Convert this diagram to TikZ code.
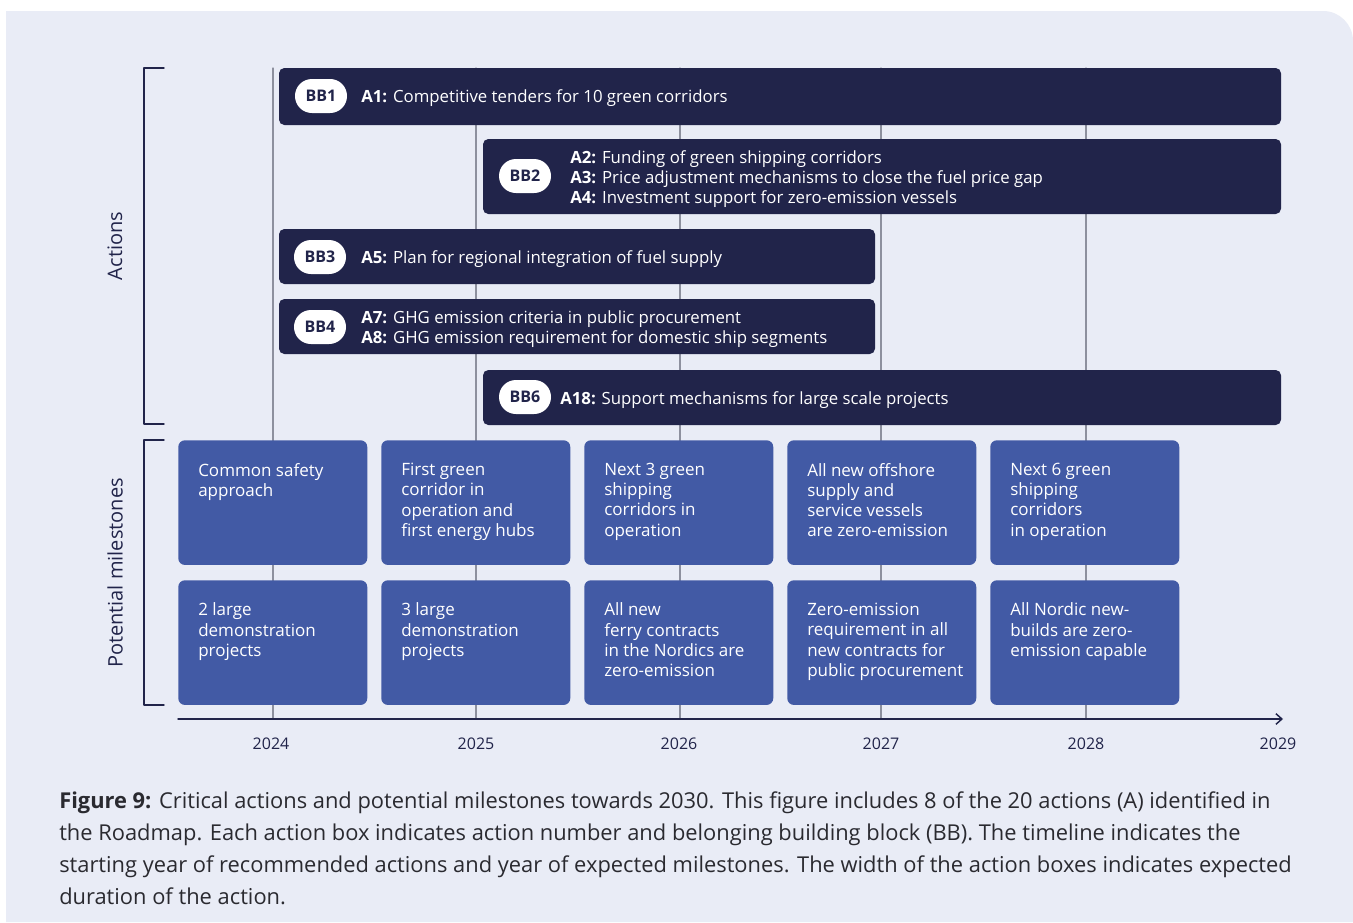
\documentclass[tikz,border=0pt]{standalone}
\usepackage{fontspec}
\setmainfont{Open Sans}
\usetikzlibrary{arrows.meta,positioning,fit}

\definecolor{navy}{HTML}{21244A}
\definecolor{mileblue}{HTML}{425AA5}
\definecolor{panel}{HTML}{E9ECF6}
\definecolor{gridgrey}{HTML}{8D909E}
\definecolor{captext}{HTML}{2A2A30}

\tikzset{
  actbar/.style={fill=navy, rounded corners=4pt, inner sep=0pt},
  milebox/.style={fill=mileblue, rounded corners=5pt, inner sep=0pt, minimum width=141.75pt, minimum height=93.5pt, anchor=north west},
  bbpill/.style={fill=white, rounded corners=12.7pt, minimum width=39pt, minimum height=25.5pt, inner sep=0pt, text=navy, font=\fontsize{12}{14}\selectfont\bfseries},
  acttext/.style={anchor=base west, inner sep=0pt, text=white, align=left, font=\fontsize{12.6}{15}\selectfont},
  miletext/.style={anchor=north west, inner sep=0pt, text=white, align=left, font=\fontsize{12.75}{15.2}\selectfont, execute at begin node=\strut},
  gridline/.style={gridgrey, line width=0.9pt},
  bracket/.style={navy, line width=1.1pt},
  sidelabel/.style={rotate=90, text=navy, font=\fontsize{15}{18}\selectfont},
  yearlabel/.style={text=navy, font=\fontsize{12}{14}\selectfont},
}

\begin{document}
\begin{tikzpicture}[x=0.75pt, y=-0.75pt, line cap=round, line join=round]

\useasboundingbox (0,0) rectangle (1353,922);

% ----------------------------
% PANEL
% ----------------------------
\fill[white] (0,0) rectangle (1353,922);
\fill[panel] (6,922) -- (6,11) [rounded corners=22.5pt] -- (1353,11) [sharp corners] -- (1353,922) -- cycle;

% ----------------------------
% YEAR GRID AND TIMELINE
% ----------------------------
\foreach \yr/\gx in {2024/273, 2025/476, 2026/680, 2027/881, 2028/1086} {
  \draw[gridline] (\gx,68) -- (\gx,719);
}

\coordinate (axstart) at (178,719);
\coordinate (axend) at (1283,719);
\draw[navy, line width=1.1pt, -{Straight Barb[length=4.5pt, width=8pt, line width=1.1pt]}] (axstart) -- (axend);

\foreach \yr/\lx in {2024/271, 2025/476, 2026/679, 2027/881, 2028/1086, 2029/1278} {
  \node[yearlabel] (y\yr) at (\lx,744) {\yr};
}

% ----------------------------
% ACTIONS
% ----------------------------
\node[actbar, fit={(279,68) (1281,125)}] (bar1) {};
\node[actbar, fit={(483,139) (1281,214)}] (bar2) {};
\node[actbar, fit={(279,229) (875,284)}] (bar3) {};
\node[actbar, fit={(279,299) (875,354)}] (bar4) {};
\node[actbar, fit={(483,370) (1281,425)}] (bar6) {};

\node[bbpill] (bb1) at (321,96) {BB1};
\node[bbpill] (bb2) at (525,176) {BB2};
\node[bbpill] (bb3) at (320,257) {BB3};
\node[bbpill] (bb4) at (320,327) {BB4};
\node[bbpill] (bb6) at (525,397) {BB6};

% multi-line nodes sit on their last baseline
\node[acttext] (act1) at (361,102) {\textbf{A1:} Competitive tenders for 10 green corridors};
\node[acttext] (act2) at (570,203) {\textbf{A2:} Funding of green shipping corridors\\
  \textbf{A3:} Price adjustment mechanisms to close the fuel price gap\\
  \textbf{A4:} Investment support for zero-emission vessels};
\node[acttext] (act3) at (361,263) {\textbf{A5:} Plan for regional integration of fuel supply};
\node[acttext] (act4) at (361,343) {\textbf{A7:} GHG emission criteria in public procurement\\
  \textbf{A8:} GHG emission requirement for domestic ship segments};
\node[acttext] (act6) at (560,404) {\textbf{A18:} Support mechanisms for large scale projects};

% ----------------------------
% MILESTONES
% ----------------------------
\foreach \c/\mx in {1/178, 2/381, 3/584, 4/787, 5/990} {
  \node[milebox] (m\c a) at (\mx,440) {};
  \node[milebox] (m\c b) at (\mx,580) {};
}

\node[miletext] (t1a) at ([xshift=15pt, yshift=-17.1pt]m1a.north west) {Common safety\\approach};
\node[miletext] (t2a) at ([xshift=15pt, yshift=-17.1pt]m2a.north west) {First green\\corridor in\\operation and\\first energy hubs};
\node[miletext] (t3a) at ([xshift=15pt, yshift=-17.1pt]m3a.north west) {Next 3 green\\shipping\\corridors in\\operation};
\node[miletext] (t4a) at ([xshift=15pt, yshift=-17.1pt]m4a.north west) {All new offshore\\supply and\\service vessels\\are zero-emission};
\node[miletext] (t5a) at ([xshift=15pt, yshift=-17.1pt]m5a.north west) {Next 6 green\\shipping\\corridors\\in operation};

\node[miletext] (t1b) at ([xshift=15pt, yshift=-17.1pt]m1b.north west) {2 large\\demonstration\\projects};
\node[miletext] (t2b) at ([xshift=15pt, yshift=-17.1pt]m2b.north west) {3 large\\demonstration\\projects};
\node[miletext] (t3b) at ([xshift=15pt, yshift=-17.1pt]m3b.north west) {All new\\ferry contracts\\in the Nordics are\\zero-emission};
\node[miletext] (t4b) at ([xshift=15pt, yshift=-17.1pt]m4b.north west) {Zero-emission\\requirement in all\\new contracts for\\public procurement};
\node[miletext] (t5b) at ([xshift=15pt, yshift=-17.1pt]m5b.north west) {All Nordic new-\\builds are zero-\\emission capable};

% ----------------------------
% SIDE BRACKETS
% ----------------------------
\draw[bracket] (164,68) -- (144,68) -- (144,424) -- (164,424);
\draw[bracket] (164,440) -- (144,440) -- (144,705) -- (164,705);

\node[sidelabel] (lblact) at (115,246) {Actions};
\node[sidelabel] (lblmile) at (115,573) {Potential milestones};

% ----------------------------
% CAPTION
% ----------------------------
\node[anchor=base west, inner sep=0pt, align=left, text=captext,
      font=\fontsize{16.4}{24}\selectfont] (caption) at (59,904)
  {\textbf{Figure 9:} Critical actions and potential milestones towards 2030. This figure includes 8 of the 20 actions (A) identified in\\
   the Roadmap. Each action box indicates action number and belonging building block (BB). The timeline indicates the\\
   starting year of recommended actions and year of expected milestones. The width of the action boxes indicates expected\\
   duration of the action.};

\end{tikzpicture}
\end{document}
